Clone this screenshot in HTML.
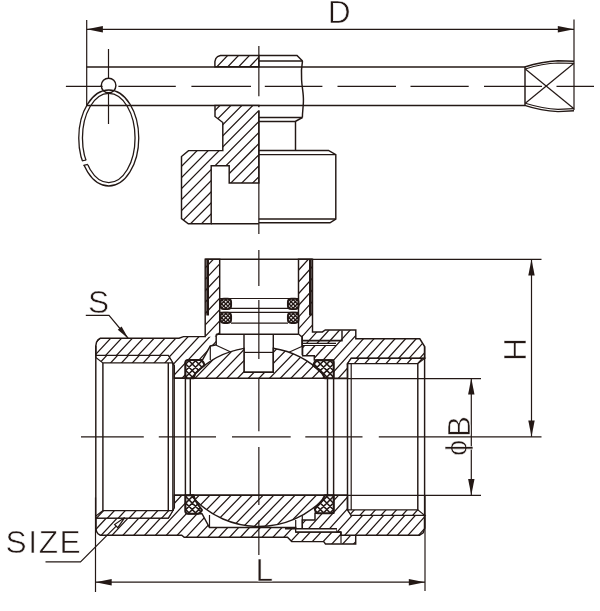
<!DOCTYPE html>
<html lang="en"><head><meta charset="utf-8"><title>Ball valve drawing</title>
<style>
html,body{margin:0;padding:0;background:#fff;}
svg{display:block;font-family:"Liberation Sans",sans-serif;}
svg{will-change:transform;}
</style></head>
<body>
<svg width="600" height="611" viewBox="0 0 600 611" stroke="#231815" fill="none" stroke-linecap="butt" stroke-linejoin="miter">
<rect x="0" y="0" width="600" height="611" fill="#fff" stroke="none"/>
<defs>
</defs>
<line x1="86.7" y1="29.3" x2="574" y2="29.3" stroke-width="1.2" />
<polygon points="86.70,29.30 102.90,26.10 102.90,32.50" fill="#231815" stroke="none"/>
<polygon points="574.00,29.30 557.80,32.50 557.80,26.10" fill="#231815" stroke="none"/>
<line x1="86.7" y1="20" x2="86.7" y2="105.5" stroke-width="1.2" />
<line x1="574" y1="19.5" x2="574" y2="110" stroke-width="1.2" />
<line x1="86.6" y1="67" x2="525" y2="67" stroke-width="1.45" />
<line x1="86.6" y1="105.5" x2="525" y2="105.5" stroke-width="1.45" />
<path d="M524.7,67 C532,64.6 546,61.2 558,60.7 L574,61.2" fill="none" stroke-width="1.45" />
<path d="M525.3,69 C533,66.5 546,63.4 558,63 L574,63.3" fill="none" stroke-width="1.2" />
<path d="M524.7,105.4 C532,107.8 546,111 558,111.6 L574,110.8" fill="none" stroke-width="1.45" />
<path d="M525.3,103.3 C533,105.7 546,108.9 558,109.3 L574,108.7" fill="none" stroke-width="1.2" />
<line x1="525" y1="67" x2="525" y2="105.4" stroke-width="1.45" />
<line x1="525.3" y1="69" x2="574" y2="108.7" stroke-width="1.2" />
<line x1="525.3" y1="103.3" x2="574" y2="63.3" stroke-width="1.2" />
<line x1="65.9" y1="86.3" x2="101.5" y2="86.3" stroke-width="1.2" />
<line x1="118.4" y1="86.3" x2="175.8" y2="86.3" stroke-width="1.2" />
<line x1="191.4" y1="86.3" x2="251" y2="86.3" stroke-width="1.2" />
<line x1="264.8" y1="86.3" x2="322.4" y2="86.3" stroke-width="1.2" />
<line x1="337.5" y1="86.3" x2="396" y2="86.3" stroke-width="1.2" />
<line x1="410.5" y1="86.3" x2="468.7" y2="86.3" stroke-width="1.2" />
<line x1="484" y1="86.3" x2="542" y2="86.3" stroke-width="1.2" />
<line x1="556.5" y1="86.3" x2="594" y2="86.3" stroke-width="1.2" />
<line x1="108.5" y1="49" x2="108.5" y2="124" stroke-width="1.2" />
<circle cx="108.6" cy="85.5" r="7.3" fill="#fff" stroke-width="1.45"/>
<line x1="100.5" y1="86.3" x2="102.6" y2="86.3" stroke-width="1.2" />
<g fill="none" stroke-width="1.3">
<ellipse cx="108.75" cy="138" rx="30" ry="48" />
<ellipse cx="108.75" cy="138" rx="26.3" ry="44.6" />
</g>
<polygon points="76,161.5 89,159.8 89,164.4 76,165.8" fill="#fff" stroke="none"/>
<line x1="81.9" y1="160.9" x2="86.2" y2="160.0" stroke-width="1.2" />
<line x1="83.6" y1="165.4" x2="87.9" y2="164.4" stroke-width="1.2" />
<clipPath id="c1"><path d="M214.9,66.8 L214.9,61.5 L215.8,58.6 L217.6,56.6 L220.4,55.5 L258.85,55.5 L258.85,66.8 Z"/></clipPath>
<path d="M214.9,66.8 L214.9,61.5 L215.8,58.6 L217.6,56.6 L220.4,55.5 L258.85,55.5 L258.85,66.8 Z" fill="#fff" stroke="none"/>
<path d="M204.07,68.80L218.59,53.50M214.97,68.80L229.49,53.50M225.87,68.80L240.39,53.50M236.77,68.80L251.29,53.50M247.67,68.80L262.19,53.50M258.57,68.80L273.09,53.50" clip-path="url(#c1)" stroke-width="1.25" fill="none"/>
<polygon points="214.9,66.8 214.9,61.5 215.8,58.6 217.6,56.6 220.4,55.5 258.85,55.5 258.85,66.8" fill="none" stroke-width="1.45" />
<polyline points="258.85,55.4 297,55.4 302.5,61" fill="none" stroke-width="1.45" />
<line x1="258.85" y1="61" x2="302.5" y2="61" stroke-width="1.45" />
<path d="M302.5,61 C301.2,68 301.2,74 301.6,80 C302,88 303.8,94 303.4,102 C303.2,108 302.4,112 302.4,117.5" fill="none" stroke-width="1.45" />
<clipPath id="c2"><path d="M215,105.4 L258.85,105.4 L258.85,183 L229.2,183 L229.2,165.8 L211.2,165.8 L211.2,223.8 L188.3,223.8 L181.5,218.6 L181.5,156.5 L188.5,150.6 L222.8,150.6 L222.8,122.5 L215,116.5 Z"/></clipPath>
<path d="M215,105.4 L258.85,105.4 L258.85,183 L229.2,183 L229.2,165.8 L211.2,165.8 L211.2,223.8 L188.3,223.8 L181.5,218.6 L181.5,156.5 L188.5,150.6 L222.8,150.6 L222.8,122.5 L215,116.5 Z" fill="#fff" stroke="none"/>
<path d="M68.03,225.80L189.16,103.40M78.98,225.80L200.11,103.40M89.93,225.80L211.06,103.40M100.88,225.80L222.01,103.40M111.83,225.80L232.96,103.40M122.78,225.80L243.91,103.40M133.73,225.80L254.86,103.40M144.68,225.80L265.81,103.40M155.63,225.80L276.76,103.40M166.58,225.80L287.71,103.40M177.53,225.80L298.66,103.40M188.48,225.80L309.61,103.40M199.43,225.80L320.56,103.40M210.38,225.80L331.51,103.40M221.33,225.80L342.46,103.40M232.28,225.80L353.41,103.40M243.23,225.80L364.36,103.40M254.18,225.80L375.31,103.40" clip-path="url(#c2)" stroke-width="1.25" fill="none"/>
<polygon points="215,105.4 258.85,105.4 258.85,183 229.2,183 229.2,165.8 211.2,165.8 211.2,223.8 188.3,223.8 181.5,218.6 181.5,156.5 188.5,150.6 222.8,150.6 222.8,122.5 215,116.5" fill="none" stroke-width="1.45" />
<line x1="211.2" y1="223.7" x2="258.85" y2="223.7" stroke-width="1.45" />
<rect x="257.8" y="107.2" width="2.4" height="3.2" fill="#fff" stroke="none"/>
<line x1="258.85" y1="117.5" x2="302.4" y2="117.5" stroke-width="1.45" />
<polyline points="258.85,121.5 295.3,121.5 302.4,117.5" fill="none" stroke-width="1.45" />
<line x1="295.5" y1="121.5" x2="295.5" y2="150.6" stroke-width="1.45" />
<polyline points="258.85,150.4 328.5,150.4 335.8,154.6 335.8,219 330,222.8 258.85,222.8" fill="none" stroke-width="1.45" />
<line x1="258.85" y1="154.6" x2="335.8" y2="154.6" stroke-width="1.45" />
<line x1="258.85" y1="219" x2="335.8" y2="219" stroke-width="1.45" />
<clipPath id="c3"><path d="M95.8,345.8 L96.5,342.2 L98,339.8 L100.3,338.3 L179,338.3 L183.5,336.6 L216.2,336.6 L216.2,344.8 L210.3,346 L202.8,359.4 L201,360 L188,360 L185.4,362.5 L185.4,378.3 L174.3,378.3 L174.3,365.8 L168.3,355.5 L95.8,355.5 Z"/></clipPath>
<path d="M95.8,345.8 L96.5,342.2 L98,339.8 L100.3,338.3 L179,338.3 L183.5,336.6 L216.2,336.6 L216.2,344.8 L210.3,346 L202.8,359.4 L201,360 L188,360 L185.4,362.5 L185.4,378.3 L174.3,378.3 L174.3,365.8 L168.3,355.5 L95.8,355.5 Z" fill="#fff" stroke="none"/>
<path d="M60.77,380.30L103.24,334.60M71.62,380.30L114.09,334.60M82.47,380.30L124.94,334.60M93.32,380.30L135.79,334.60M104.17,380.30L146.64,334.60M115.02,380.30L157.49,334.60M125.87,380.30L168.34,334.60M136.72,380.30L179.19,334.60M147.57,380.30L190.04,334.60M158.42,380.30L200.89,334.60M169.27,380.30L211.74,334.60M180.12,380.30L222.59,334.60M190.97,380.30L233.44,334.60M201.82,380.30L244.29,334.60M212.67,380.30L255.14,334.60" clip-path="url(#c3)" stroke-width="1.25" fill="none"/>
<clipPath id="c4"><path d="M205.2,259.2 L219.7,259.2 L219.7,333.7 L216.2,335 L216.2,336.6 L205.2,336.6 Z"/></clipPath>
<path d="M205.2,259.2 L219.7,259.2 L219.7,333.7 L216.2,335 L216.2,336.6 L205.2,336.6 Z" fill="#fff" stroke="none"/>
<path d="M127.62,338.60L204.59,257.20M138.40,338.60L215.37,257.20M149.18,338.60L226.15,257.20M159.96,338.60L236.93,257.20M170.74,338.60L247.71,257.20M181.52,338.60L258.49,257.20M192.30,338.60L269.27,257.20M203.08,338.60L280.05,257.20M213.86,338.60L290.83,257.20" clip-path="url(#c4)" stroke-width="1.25" fill="none"/>
<polygon points="95.8,345.8 96.5,342.2 98,339.8 100.3,338.3 179,338.3 183.5,336.6 205.2,336.6 205.2,259.2 219.7,259.2 219.7,333.7 216.2,335 216.2,344.8 210.3,346 202.8,359.4 201,360 188,360 185.4,362.5 185.4,378.3 174.3,378.3 174.3,365.8 168.3,355.5 95.8,355.5" fill="none" stroke-width="1.45" />
<clipPath id="c5"><path d="M95.8,355.5 L168.3,355.5 L172.9,362.9 L102.9,362.9 L95.8,357.5 Z"/></clipPath>
<path d="M95.8,355.5 L168.3,355.5 L172.9,362.9 L102.9,362.9 L95.8,357.5 Z" fill="#fff" stroke="none"/>
<path d="M87.07,364.90L97.67,353.50M97.92,364.90L108.52,353.50M108.77,364.90L119.37,353.50M119.62,364.90L130.22,353.50M130.47,364.90L141.07,353.50M141.32,364.90L151.92,353.50M152.17,364.90L162.77,353.50M163.02,364.90L173.62,353.50M173.87,364.90L184.47,353.50" clip-path="url(#c5)" stroke-width="1.25" fill="none"/>
<polygon points="95.8,355.5 168.3,355.5 172.9,362.9 102.9,362.9 95.8,357.5" fill="none" stroke-width="1.2" />
<clipPath id="c6"><path d="M95.8,527.8 L96.5,531.4000000000001 L98,533.8 L100.3,535.2 L181.7,535.2 L184.2,537.2 L287.5,537.2 L291.7,541.6 L323.7,541.6 L325.5,544 L355.7,544 L355.7,535.3 L341,535.3 L341,532 L295.7,532 L295.7,527.5 L209.5,527.5 L202,513.7 L188,513.7 L185.4,511.5 L185.4,495.3 L174.3,495.3 L174.3,507.8 L168.3,518.1 L95.8,518.1 Z"/></clipPath>
<path d="M95.8,527.8 L96.5,531.4000000000001 L98,533.8 L100.3,535.2 L181.7,535.2 L184.2,537.2 L287.5,537.2 L291.7,541.6 L323.7,541.6 L325.5,544 L355.7,544 L355.7,535.3 L341,535.3 L341,532 L295.7,532 L295.7,527.5 L209.5,527.5 L202,513.7 L188,513.7 L185.4,511.5 L185.4,495.3 L174.3,495.3 L174.3,507.8 L168.3,518.1 L95.8,518.1 Z" fill="#fff" stroke="none"/>
<path d="M47.84,546.00L96.82,493.30M58.69,546.00L107.67,493.30M69.54,546.00L118.52,493.30M80.39,546.00L129.37,493.30M91.24,546.00L140.22,493.30M102.09,546.00L151.07,493.30M112.94,546.00L161.92,493.30M123.79,546.00L172.77,493.30M134.64,546.00L183.62,493.30M145.49,546.00L194.47,493.30M156.34,546.00L205.32,493.30M167.19,546.00L216.17,493.30M178.04,546.00L227.02,493.30M188.89,546.00L237.87,493.30M199.74,546.00L248.72,493.30M210.59,546.00L259.57,493.30M221.44,546.00L270.42,493.30M232.29,546.00L281.27,493.30M243.14,546.00L292.12,493.30M253.99,546.00L302.97,493.30M264.84,546.00L313.82,493.30M275.69,546.00L324.67,493.30M286.54,546.00L335.52,493.30M297.39,546.00L346.37,493.30M308.24,546.00L357.22,493.30M319.09,546.00L368.07,493.30M329.94,546.00L378.92,493.30M340.79,546.00L389.77,493.30M351.64,546.00L400.62,493.30" clip-path="url(#c6)" stroke-width="1.25" fill="none"/>
<polygon points="95.8,527.8 96.5,531.4000000000001 98,533.8 100.3,535.2 181.7,535.2 184.2,537.2 287.5,537.2 291.7,541.6 323.7,541.6 325.5,544 355.7,544 355.7,535.3 341,535.3 341,532 295.7,532 295.7,527.5 209.5,527.5 202,513.7 188,513.7 185.4,511.5 185.4,495.3 174.3,495.3 174.3,507.8 168.3,518.1 95.8,518.1" fill="none" stroke-width="1.45" />
<clipPath id="c7"><path d="M95.8,518.1 L168.3,518.1 L172.9,510.7 L102.9,510.7 L95.8,516.1 Z"/></clipPath>
<path d="M95.8,518.1 L168.3,518.1 L172.9,510.7 L102.9,510.7 L95.8,516.1 Z" fill="#fff" stroke="none"/>
<path d="M83.90,520.10L94.50,508.70M94.75,520.10L105.35,508.70M105.60,520.10L116.20,508.70M116.45,520.10L127.05,508.70M127.30,520.10L137.90,508.70M138.15,520.10L148.75,508.70M149.00,520.10L159.60,508.70M159.85,520.10L170.45,508.70M170.70,520.10L181.30,508.70" clip-path="url(#c7)" stroke-width="1.25" fill="none"/>
<polygon points="95.8,518.1 168.3,518.1 172.9,510.7 102.9,510.7 95.8,516.1" fill="none" stroke-width="1.2" />
<line x1="95.8" y1="345.8" x2="95.8" y2="527.8" stroke-width="1.45" />
<line x1="102.9" y1="362.9" x2="102.9" y2="510.7" stroke-width="1.45" />
<line x1="168.3" y1="362.9" x2="168.3" y2="510.7" stroke-width="1.45" />
<line x1="172.9" y1="362.9" x2="172.9" y2="510.7" stroke-width="1.45" />
<line x1="174.3" y1="365.8" x2="174.3" y2="507.8" stroke-width="1.2" />
<line x1="174.3" y1="378.3" x2="347.5" y2="378.3" stroke-width="1.45" />
<line x1="174.3" y1="495.3" x2="347.5" y2="495.3" stroke-width="1.45" />
<line x1="185.4" y1="378.3" x2="185.4" y2="495.3" stroke-width="1.45" />
<line x1="190.3" y1="378.3" x2="190.3" y2="495.3" stroke-width="1.45" />
<line x1="327.5" y1="378.3" x2="327.5" y2="495.3" stroke-width="1.45" />
<line x1="333.6" y1="378.3" x2="333.6" y2="495.3" stroke-width="1.45" />
<clipPath id="c8"><path d="M298.5,259.2 L312.5,259.2 L312.5,331.9 L322.4,331.9 L325.3,329.9 L355.8,329.9 L355.8,338.8 L419.8,338.8 L424.6,346.5 L424.6,358.3 L351.2,358.3 L347.5,363.7 L347.5,378.3 L333.5,378.3 L333.5,360 L314.3,360 L314.3,355.8 L302.6,355.8 L302.6,347 L302,344.8 L302,337 L298.5,334 Z"/></clipPath>
<path d="M298.5,259.2 L312.5,259.2 L312.5,331.9 L322.4,331.9 L325.3,329.9 L355.8,329.9 L355.8,338.8 L419.8,338.8 L424.6,346.5 L424.6,358.3 L351.2,358.3 L347.5,363.7 L347.5,378.3 L333.5,378.3 L333.5,360 L314.3,360 L314.3,355.8 L302.6,355.8 L302.6,347 L302,344.8 L302,337 L298.5,334 Z" fill="#fff" stroke="none"/>
<path d="M188.86,380.30L299.70,257.20M199.41,380.30L310.25,257.20M209.96,380.30L320.80,257.20M220.51,380.30L331.35,257.20M231.06,380.30L341.90,257.20M241.61,380.30L352.45,257.20M252.16,380.30L363.00,257.20M262.71,380.30L373.55,257.20M273.26,380.30L384.10,257.20M283.81,380.30L394.65,257.20M294.36,380.30L405.20,257.20M304.91,380.30L415.75,257.20M315.46,380.30L426.30,257.20M326.01,380.30L436.85,257.20M336.56,380.30L447.40,257.20M347.11,380.30L457.95,257.20M357.66,380.30L468.50,257.20M368.21,380.30L479.05,257.20M378.76,380.30L489.60,257.20M389.31,380.30L500.15,257.20M399.86,380.30L510.70,257.20M410.41,380.30L521.25,257.20M420.96,380.30L531.80,257.20" clip-path="url(#c8)" stroke-width="1.25" fill="none"/>
<polygon points="298.5,259.2 312.5,259.2 312.5,331.9 322.4,331.9 325.3,329.9 355.8,329.9 355.8,338.8 419.8,338.8 424.6,346.5 424.6,358.3 351.2,358.3 347.5,363.7 347.5,378.3 333.5,378.3 333.5,360 314.3,360 314.3,355.8 302.6,355.8 302.6,347 302,344.8 302,337 298.5,334" fill="none" stroke-width="1.45" />
<line x1="302" y1="340.6" x2="342.6" y2="340.6" stroke-width="1.65" />
<clipPath id="c9"><path d="M351.2,358.3 L424.6,358.3 L417.8,363.7 L347.5,363.7 Z"/></clipPath>
<path d="M351.2,358.3 L424.6,358.3 L417.8,363.7 L347.5,363.7 Z" fill="#fff" stroke="none"/>
<path d="M341.89,365.70L350.36,356.30M352.44,365.70L360.91,356.30M362.99,365.70L371.46,356.30M373.54,365.70L382.01,356.30M384.09,365.70L392.56,356.30M394.64,365.70L403.11,356.30M405.19,365.70L413.66,356.30M415.74,365.70L424.21,356.30M426.29,365.70L434.76,356.30" clip-path="url(#c9)" stroke-width="1.25" fill="none"/>
<polygon points="351.2,358.3 424.6,358.3 417.8,363.7 347.5,363.7" fill="none" stroke-width="1.2" />
<rect x="302" y="343.4" width="34" height="2" fill="#fff" stroke="none"/>
<line x1="302" y1="343.4" x2="336" y2="343.4" stroke-width="1.2" />
<line x1="302" y1="345.5" x2="336" y2="345.5" stroke-width="1.2" />
<line x1="342" y1="330.5" x2="342" y2="340.6" stroke-width="1.45" />
<clipPath id="c10"><path d="M347.5,495.3 L333.7,495.3 L333.7,513.3 L315,513.3 L315,520 L302.3,520 L302.3,528.7 L336.3,528.7 L336.3,532 L341,532 L341,535.3 L355.7,535.3 L419.5,535.3 L423.2,532.8 L424.6,528.5 L424.6,515.3 L351.2,515.3 L347.5,509.9 Z"/></clipPath>
<path d="M347.5,495.3 L333.7,495.3 L333.7,513.3 L315,513.3 L315,520 L302.3,520 L302.3,528.7 L336.3,528.7 L336.3,532 L341,532 L341,535.3 L355.7,535.3 L419.5,535.3 L423.2,532.8 L424.6,528.5 L424.6,515.3 L351.2,515.3 L347.5,509.9 Z" fill="#fff" stroke="none"/>
<path d="M269.05,537.30L308.67,493.30M279.60,537.30L319.22,493.30M290.15,537.30L329.77,493.30M300.70,537.30L340.32,493.30M311.25,537.30L350.87,493.30M321.80,537.30L361.42,493.30M332.35,537.30L371.97,493.30M342.90,537.30L382.52,493.30M353.45,537.30L393.07,493.30M364.00,537.30L403.62,493.30M374.55,537.30L414.17,493.30M385.10,537.30L424.72,493.30M395.65,537.30L435.27,493.30M406.20,537.30L445.82,493.30M416.75,537.30L456.37,493.30" clip-path="url(#c10)" stroke-width="1.25" fill="none"/>
<polygon points="347.5,495.3 333.7,495.3 333.7,513.3 315,513.3 315,520 302.3,520 302.3,528.7 336.3,528.7 336.3,532 341,532 341,535.3 355.7,535.3 419.5,535.3 423.2,532.8 424.6,528.5 424.6,515.3 351.2,515.3 347.5,509.9" fill="none" stroke-width="1.45" />
<clipPath id="c11"><path d="M351.2,515.3 L424.6,515.3 L417.8,509.9 L347.5,509.9 Z"/></clipPath>
<path d="M351.2,515.3 L424.6,515.3 L417.8,509.9 L347.5,509.9 Z" fill="#fff" stroke="none"/>
<path d="M337.08,517.30L345.54,507.90M347.63,517.30L356.09,507.90M358.18,517.30L366.64,507.90M368.73,517.30L377.19,507.90M379.28,517.30L387.74,507.90M389.83,517.30L398.29,507.90M400.38,517.30L408.84,507.90M410.93,517.30L419.39,507.90M421.48,517.30L429.94,507.90" clip-path="url(#c11)" stroke-width="1.25" fill="none"/>
<polygon points="351.2,515.3 424.6,515.3 417.8,509.9 347.5,509.9" fill="none" stroke-width="1.2" />
<rect x="296" y="528.7" width="40.3" height="3.3" fill="#fff" stroke="none"/>
<line x1="285" y1="528.7" x2="336.3" y2="528.7" stroke-width="1.45" />
<line x1="295.7" y1="532" x2="341" y2="532" stroke-width="1.45" />
<line x1="341" y1="532" x2="341" y2="543.5" stroke-width="1.2" />
<line x1="347.5" y1="363.7" x2="347.5" y2="509.9" stroke-width="1.45" />
<line x1="351.2" y1="363.7" x2="351.2" y2="509.9" stroke-width="1.2" />
<line x1="417.8" y1="363.7" x2="417.8" y2="509.9" stroke-width="1.45" />
<line x1="424.6" y1="346.5" x2="424.6" y2="528.5" stroke-width="1.45" />
<line x1="205.2" y1="259.2" x2="312.3" y2="259.2" stroke-width="1.45" />
<rect x="206.3" y="260" width="2.7" height="55.5" fill="#231815" stroke="none"/>
<rect x="309" y="260" width="2.7" height="55.5" fill="#231815" stroke="none"/>
<line x1="219.7" y1="298.5" x2="298.5" y2="298.5" stroke-width="1.2" />
<line x1="231" y1="308.3" x2="288" y2="308.3" stroke-width="1.2" />
<line x1="219.7" y1="312.4" x2="298.5" y2="312.4" stroke-width="1.2" />
<line x1="231" y1="323.1" x2="288" y2="323.1" stroke-width="1.2" />
<line x1="216.2" y1="334.3" x2="298.5" y2="334.3" stroke-width="1.55" />
<line x1="244" y1="334.3" x2="244" y2="372.3" stroke-width="1.45" />
<line x1="273.3" y1="334.3" x2="273.3" y2="372.3" stroke-width="1.45" />
<line x1="244" y1="352.4" x2="273.3" y2="352.4" stroke-width="1.2" />
<line x1="244" y1="372.3" x2="273.3" y2="372.3" stroke-width="1.45" />
<clipPath id="c12"><path d="M223.9,298.7 H227.7 Q231.1,298.7 231.1,302.09999999999997 V305.7 Q231.1,309.09999999999997 227.7,309.09999999999997 H223.9 Q220.5,309.09999999999997 220.5,305.7 V302.09999999999997 Q220.5,298.7 223.9,298.7 Z"/></clipPath>
<path d="M223.9,298.7 H227.7 Q231.1,298.7 231.1,302.09999999999997 V305.7 Q231.1,309.09999999999997 227.7,309.09999999999997 H223.9 Q220.5,309.09999999999997 220.5,305.7 V302.09999999999997 Q220.5,298.7 223.9,298.7 Z" fill="#fff" stroke="none"/>
<path d="M206.00,311.10L220.40,296.70M210.20,311.10L224.60,296.70M214.40,311.10L228.80,296.70M218.60,311.10L233.00,296.70M222.80,311.10L237.20,296.70M227.00,311.10L241.40,296.70M231.20,311.10L245.60,296.70M220.40,311.10L206.00,296.70M224.60,311.10L210.20,296.70M228.80,311.10L214.40,296.70M233.00,311.10L218.60,296.70M237.20,311.10L222.80,296.70M241.40,311.10L227.00,296.70M245.60,311.10L231.20,296.70" clip-path="url(#c12)" stroke-width="1.4" fill="none"/>
<path d="M223.9,298.7 H227.7 Q231.1,298.7 231.1,302.09999999999997 V305.7 Q231.1,309.09999999999997 227.7,309.09999999999997 H223.9 Q220.5,309.09999999999997 220.5,305.7 V302.09999999999997 Q220.5,298.7 223.9,298.7 Z" fill="none" stroke-width="1.9" stroke-linejoin="round"/>
<clipPath id="c13"><path d="M223.9,312.6 H227.7 Q231.1,312.6 231.1,316.0 V319.6 Q231.1,323.0 227.7,323.0 H223.9 Q220.5,323.0 220.5,319.6 V316.0 Q220.5,312.6 223.9,312.6 Z"/></clipPath>
<path d="M223.9,312.6 H227.7 Q231.1,312.6 231.1,316.0 V319.6 Q231.1,323.0 227.7,323.0 H223.9 Q220.5,323.0 220.5,319.6 V316.0 Q220.5,312.6 223.9,312.6 Z" fill="#fff" stroke="none"/>
<path d="M206.00,325.00L220.40,310.60M210.20,325.00L224.60,310.60M214.40,325.00L228.80,310.60M218.60,325.00L233.00,310.60M222.80,325.00L237.20,310.60M227.00,325.00L241.40,310.60M231.20,325.00L245.60,310.60M220.40,325.00L206.00,310.60M224.60,325.00L210.20,310.60M228.80,325.00L214.40,310.60M233.00,325.00L218.60,310.60M237.20,325.00L222.80,310.60M241.40,325.00L227.00,310.60M245.60,325.00L231.20,310.60" clip-path="url(#c13)" stroke-width="1.4" fill="none"/>
<path d="M223.9,312.6 H227.7 Q231.1,312.6 231.1,316.0 V319.6 Q231.1,323.0 227.7,323.0 H223.9 Q220.5,323.0 220.5,319.6 V316.0 Q220.5,312.6 223.9,312.6 Z" fill="none" stroke-width="1.9" stroke-linejoin="round"/>
<clipPath id="c14"><path d="M291.29999999999995,298.7 H295.1 Q298.5,298.7 298.5,302.09999999999997 V305.7 Q298.5,309.09999999999997 295.1,309.09999999999997 H291.29999999999995 Q287.9,309.09999999999997 287.9,305.7 V302.09999999999997 Q287.9,298.7 291.29999999999995,298.7 Z"/></clipPath>
<path d="M291.29999999999995,298.7 H295.1 Q298.5,298.7 298.5,302.09999999999997 V305.7 Q298.5,309.09999999999997 295.1,309.09999999999997 H291.29999999999995 Q287.9,309.09999999999997 287.9,305.7 V302.09999999999997 Q287.9,298.7 291.29999999999995,298.7 Z" fill="#fff" stroke="none"/>
<path d="M273.40,311.10L287.80,296.70M277.60,311.10L292.00,296.70M281.80,311.10L296.20,296.70M286.00,311.10L300.40,296.70M290.20,311.10L304.60,296.70M294.40,311.10L308.80,296.70M298.60,311.10L313.00,296.70M287.80,311.10L273.40,296.70M292.00,311.10L277.60,296.70M296.20,311.10L281.80,296.70M300.40,311.10L286.00,296.70M304.60,311.10L290.20,296.70M308.80,311.10L294.40,296.70M313.00,311.10L298.60,296.70" clip-path="url(#c14)" stroke-width="1.4" fill="none"/>
<path d="M291.29999999999995,298.7 H295.1 Q298.5,298.7 298.5,302.09999999999997 V305.7 Q298.5,309.09999999999997 295.1,309.09999999999997 H291.29999999999995 Q287.9,309.09999999999997 287.9,305.7 V302.09999999999997 Q287.9,298.7 291.29999999999995,298.7 Z" fill="none" stroke-width="1.9" stroke-linejoin="round"/>
<clipPath id="c15"><path d="M291.29999999999995,312.6 H295.1 Q298.5,312.6 298.5,316.0 V319.6 Q298.5,323.0 295.1,323.0 H291.29999999999995 Q287.9,323.0 287.9,319.6 V316.0 Q287.9,312.6 291.29999999999995,312.6 Z"/></clipPath>
<path d="M291.29999999999995,312.6 H295.1 Q298.5,312.6 298.5,316.0 V319.6 Q298.5,323.0 295.1,323.0 H291.29999999999995 Q287.9,323.0 287.9,319.6 V316.0 Q287.9,312.6 291.29999999999995,312.6 Z" fill="#fff" stroke="none"/>
<path d="M273.40,325.00L287.80,310.60M277.60,325.00L292.00,310.60M281.80,325.00L296.20,310.60M286.00,325.00L300.40,310.60M290.20,325.00L304.60,310.60M294.40,325.00L308.80,310.60M298.60,325.00L313.00,310.60M287.80,325.00L273.40,310.60M292.00,325.00L277.60,310.60M296.20,325.00L281.80,310.60M300.40,325.00L286.00,310.60M304.60,325.00L290.20,310.60M308.80,325.00L294.40,310.60M313.00,325.00L298.60,310.60" clip-path="url(#c15)" stroke-width="1.4" fill="none"/>
<path d="M291.29999999999995,312.6 H295.1 Q298.5,312.6 298.5,316.0 V319.6 Q298.5,323.0 295.1,323.0 H291.29999999999995 Q287.9,323.0 287.9,319.6 V316.0 Q287.9,312.6 291.29999999999995,312.6 Z" fill="none" stroke-width="1.9" stroke-linejoin="round"/>
<clipPath id="c16"><path d="M195.2,373.60 A89.7,89.7 0 0 1 244,348.34 L244,372.3 L273.3,372.3 L273.3,348.27 A89.7,89.7 0 0 1 322.3,373.40 L327.5,378.3 L190.3,378.3 Z"/></clipPath>
<path d="M195.2,373.60 A89.7,89.7 0 0 1 244,348.34 L244,372.3 L273.3,372.3 L273.3,348.27 A89.7,89.7 0 0 1 322.3,373.40 L327.5,378.3 L190.3,378.3 Z" fill="#fff" stroke="none"/>
<path d="M148.83,382.00L186.49,343.00M159.48,382.00L197.14,343.00M170.13,382.00L207.79,343.00M180.78,382.00L218.44,343.00M191.43,382.00L229.09,343.00M202.08,382.00L239.74,343.00M212.73,382.00L250.39,343.00M223.38,382.00L261.04,343.00M234.03,382.00L271.69,343.00M244.68,382.00L282.34,343.00M255.33,382.00L292.99,343.00M265.98,382.00L303.64,343.00M276.63,382.00L314.29,343.00M287.28,382.00L324.94,343.00M297.93,382.00L335.59,343.00M308.58,382.00L346.24,343.00M319.23,382.00L356.89,343.00M329.88,382.00L367.54,343.00" clip-path="url(#c16)" stroke-width="1.25" fill="none"/>
<path d="M195.2,373.60 A89.7,89.7 0 0 1 244,348.34 L244,372.3 L273.3,372.3 L273.3,348.27 A89.7,89.7 0 0 1 322.3,373.40 L327.5,378.3 L190.3,378.3 Z" fill="none" stroke-width="1.45" />
<clipPath id="c17"><path d="M195.2,500.00 A89.7,89.7 0 0 0 322.3,500.20 L327.5,495.3 L190.3,495.3 Z"/></clipPath>
<path d="M195.2,500.00 A89.7,89.7 0 0 0 322.3,500.20 L327.5,495.3 L190.3,495.3 Z" fill="#fff" stroke="none"/>
<path d="M153.08,532.00L191.70,492.00M163.73,532.00L202.35,492.00M174.38,532.00L213.00,492.00M185.03,532.00L223.65,492.00M195.68,532.00L234.30,492.00M206.33,532.00L244.95,492.00M216.98,532.00L255.60,492.00M227.63,532.00L266.25,492.00M238.28,532.00L276.90,492.00M248.93,532.00L287.55,492.00M259.58,532.00L298.20,492.00M270.23,532.00L308.85,492.00M280.88,532.00L319.50,492.00M291.53,532.00L330.15,492.00M302.18,532.00L340.80,492.00M312.83,532.00L351.45,492.00M323.48,532.00L362.10,492.00M334.13,532.00L372.75,492.00" clip-path="url(#c17)" stroke-width="1.25" fill="none"/>
<path d="M195.2,500.00 A89.7,89.7 0 0 0 322.3,500.20 L327.5,495.3 L190.3,495.3 Z" fill="none" stroke-width="1.45" />
<clipPath id="c18"><path d="M185.4,378.3 L185.4,362.5 Q185.4,360 188,360 L200.5,360 Q203.5,361 204.5,365.2 A89.7,89.7 0 0 0 195.2,373.60 L193.5,378.3 Z"/></clipPath>
<path d="M185.4,378.3 L185.4,362.5 Q185.4,360 188,360 L200.5,360 Q203.5,361 204.5,365.2 A89.7,89.7 0 0 0 195.2,373.60 L193.5,378.3 Z" fill="#fff" stroke="none"/>
<path d="M161.25,382.00L186.25,357.00M167.75,382.00L192.75,357.00M174.25,382.00L199.25,357.00M180.75,382.00L205.75,357.00M187.25,382.00L212.25,357.00M193.75,382.00L218.75,357.00M200.25,382.00L225.25,357.00M206.75,382.00L231.75,357.00M184.25,382.00L159.25,357.00M190.75,382.00L165.75,357.00M197.25,382.00L172.25,357.00M203.75,382.00L178.75,357.00M210.25,382.00L185.25,357.00M216.75,382.00L191.75,357.00M223.25,382.00L198.25,357.00M229.75,382.00L204.75,357.00" clip-path="url(#c18)" stroke-width="1.55" fill="none"/>
<path d="M185.4,378.3 L185.4,362.5 Q185.4,360 188,360 L200.5,360 Q203.5,361 204.5,365.2 A89.7,89.7 0 0 0 195.2,373.60 L193.5,378.3 Z" fill="none" stroke-width="2.0" stroke-linejoin="round"/>
<clipPath id="c19"><path d="M333.7,378.3 L333.7,362.5 Q333.7,360.2 331,360.2 L317,360.2 Q314.3,361 313.2,365.4 A89.7,89.7 0 0 1 322.3,373.40 L325,378.3 Z"/></clipPath>
<path d="M333.7,378.3 L333.7,362.5 Q333.7,360.2 331,360.2 L317,360.2 Q314.3,361 313.2,365.4 A89.7,89.7 0 0 1 322.3,373.40 L325,378.3 Z" fill="#fff" stroke="none"/>
<path d="M289.35,382.00L314.35,357.00M295.85,382.00L320.85,357.00M302.35,382.00L327.35,357.00M308.85,382.00L333.85,357.00M315.35,382.00L340.35,357.00M321.85,382.00L346.85,357.00M328.35,382.00L353.35,357.00M334.85,382.00L359.85,357.00M312.35,382.00L287.35,357.00M318.85,382.00L293.85,357.00M325.35,382.00L300.35,357.00M331.85,382.00L306.85,357.00M338.35,382.00L313.35,357.00M344.85,382.00L319.85,357.00M351.35,382.00L326.35,357.00M357.85,382.00L332.85,357.00" clip-path="url(#c19)" stroke-width="1.55" fill="none"/>
<path d="M333.7,378.3 L333.7,362.5 Q333.7,360.2 331,360.2 L317,360.2 Q314.3,361 313.2,365.4 A89.7,89.7 0 0 1 322.3,373.40 L325,378.3 Z" fill="none" stroke-width="2.0" stroke-linejoin="round"/>
<clipPath id="c20"><path d="M185.4,495.3 L185.4,511.3 Q185.4,513.7 188,513.7 L198,513.7 Q201,513 202,510 A89.7,89.7 0 0 1 195.2,500.00 L193.5,495.3 Z"/></clipPath>
<path d="M185.4,495.3 L185.4,511.3 Q185.4,513.7 188,513.7 L198,513.7 Q201,513 202,510 A89.7,89.7 0 0 1 195.2,500.00 L193.5,495.3 Z" fill="#fff" stroke="none"/>
<path d="M158.85,517.00L183.85,492.00M165.35,517.00L190.35,492.00M171.85,517.00L196.85,492.00M178.35,517.00L203.35,492.00M184.85,517.00L209.85,492.00M191.35,517.00L216.35,492.00M197.85,517.00L222.85,492.00M204.35,517.00L229.35,492.00M186.65,517.00L161.65,492.00M193.15,517.00L168.15,492.00M199.65,517.00L174.65,492.00M206.15,517.00L181.15,492.00M212.65,517.00L187.65,492.00M219.15,517.00L194.15,492.00M225.65,517.00L200.65,492.00M232.15,517.00L207.15,492.00" clip-path="url(#c20)" stroke-width="1.55" fill="none"/>
<path d="M185.4,495.3 L185.4,511.3 Q185.4,513.7 188,513.7 L198,513.7 Q201,513 202,510 A89.7,89.7 0 0 1 195.2,500.00 L193.5,495.3 Z" fill="none" stroke-width="2.0" stroke-linejoin="round"/>
<clipPath id="c21"><path d="M333.7,495.3 L333.7,511 Q333.7,513.3 331,513.3 L318,513.3 Q315.5,513 314.8,509 A89.7,89.7 0 0 0 322.3,500.20 L325,495.3 Z"/></clipPath>
<path d="M333.7,495.3 L333.7,511 Q333.7,513.3 331,513.3 L318,513.3 Q315.5,513 314.8,509 A89.7,89.7 0 0 0 322.3,500.20 L325,495.3 Z" fill="#fff" stroke="none"/>
<path d="M286.95,517.00L311.95,492.00M293.45,517.00L318.45,492.00M299.95,517.00L324.95,492.00M306.45,517.00L331.45,492.00M312.95,517.00L337.95,492.00M319.45,517.00L344.45,492.00M325.95,517.00L350.95,492.00M332.45,517.00L357.45,492.00M314.75,517.00L289.75,492.00M321.25,517.00L296.25,492.00M327.75,517.00L302.75,492.00M334.25,517.00L309.25,492.00M340.75,517.00L315.75,492.00M347.25,517.00L322.25,492.00M353.75,517.00L328.75,492.00M360.25,517.00L335.25,492.00" clip-path="url(#c21)" stroke-width="1.55" fill="none"/>
<path d="M333.7,495.3 L333.7,511 Q333.7,513.3 331,513.3 L318,513.3 Q315.5,513 314.8,509 A89.7,89.7 0 0 0 322.3,500.20 L325,495.3 Z" fill="none" stroke-width="2.0" stroke-linejoin="round"/>
<line x1="210.3" y1="346" x2="210.3" y2="360" stroke-width="1.2" />
<polyline points="216.2,345.2 230.2,351.8" fill="none" stroke-width="1.2" />
<line x1="302.3" y1="335.5" x2="302.3" y2="355" stroke-width="1.45" />
<polyline points="289,352.3 302.3,346.3" fill="none" stroke-width="1.2" />
<line x1="209.5" y1="515" x2="209.5" y2="527.5" stroke-width="1.2" />
<line x1="295.7" y1="520" x2="295.7" y2="532" stroke-width="1.2" />
<line x1="302.3" y1="515.3" x2="302.3" y2="528.7" stroke-width="1.2" />
<line x1="81" y1="436.8" x2="143.8" y2="436.8" stroke-width="1.2" />
<line x1="158.8" y1="436.8" x2="216" y2="436.8" stroke-width="1.2" />
<line x1="232" y1="436.8" x2="290.7" y2="436.8" stroke-width="1.2" />
<line x1="305.3" y1="436.8" x2="362.5" y2="436.8" stroke-width="1.2" />
<line x1="378.8" y1="436.8" x2="541.5" y2="436.8" stroke-width="1.2" />
<line x1="258.85" y1="46" x2="258.85" y2="96.3" stroke-width="1.2" />
<line x1="258.85" y1="110.5" x2="258.85" y2="234" stroke-width="1.2" />
<line x1="258.85" y1="250" x2="258.85" y2="286" stroke-width="1.2" />
<line x1="258.85" y1="300" x2="258.85" y2="359" stroke-width="1.2" />
<line x1="258.85" y1="379" x2="258.85" y2="431.2" stroke-width="1.2" />
<line x1="258.85" y1="447" x2="258.85" y2="505" stroke-width="1.2" />
<line x1="258.85" y1="520.5" x2="258.85" y2="555" stroke-width="1.2" />
<line x1="312.3" y1="259.4" x2="541.5" y2="259.4" stroke-width="1.2" />
<line x1="531.5" y1="259.4" x2="531.5" y2="436.8" stroke-width="1.2" />
<polygon points="531.50,259.20 534.70,275.40 528.30,275.40" fill="#231815" stroke="none"/>
<polygon points="531.50,436.80 528.30,420.60 534.70,420.60" fill="#231815" stroke="none"/>
<line x1="333.7" y1="378.6" x2="481" y2="378.6" stroke-width="1.2" />
<line x1="347.5" y1="495.3" x2="481" y2="495.3" stroke-width="1.2" />
<line x1="471.3" y1="378.3" x2="471.3" y2="495.3" stroke-width="1.2" />
<polygon points="471.30,378.30 474.50,394.50 468.10,394.50" fill="#231815" stroke="none"/>
<polygon points="471.30,495.30 468.10,479.10 474.50,479.10" fill="#231815" stroke="none"/>
<line x1="95.5" y1="497.5" x2="95.5" y2="592" stroke-width="1.2" />
<line x1="425" y1="495.3" x2="425" y2="591" stroke-width="1.2" />
<line x1="95.5" y1="582.2" x2="425" y2="582.2" stroke-width="1.2" />
<polygon points="95.50,582.20 111.70,579.00 111.70,585.40" fill="#231815" stroke="none"/>
<polygon points="425.00,582.20 408.80,585.40 408.80,579.00" fill="#231815" stroke="none"/>
<polyline points="85.8,315.3 109,315.3 128.3,338.5" fill="none" stroke-width="1.2" />
<polygon points="128.30,338.50 117.74,329.72 121.59,326.52" fill="#231815" stroke="none"/>
<polyline points="45.5,561.8 80.5,561.8 116.2,526.1" fill="none" stroke-width="1.2" />
<polygon points="124.7,517.6 114.6,524.5 117.8,527.7" fill="#fff" stroke-width="1.2" />
<text x="339.1" y="22.8" font-size="31.7" text-anchor="middle" letter-spacing="0" fill="#231815" stroke="#fff" stroke-width="0.6">D</text>
<text x="98.6" y="312.8" font-size="31.7" text-anchor="middle" letter-spacing="0" fill="#231815" stroke="#fff" stroke-width="0.6">S</text>
<text x="5.5" y="552.8" font-size="31.7" text-anchor="start" letter-spacing="1.6" fill="#231815" stroke="#fff" stroke-width="0.6">SIZE</text>
<text x="264.3" y="581" font-size="31.7" text-anchor="middle" letter-spacing="0" fill="#231815" stroke="#fff" stroke-width="0.6">L</text>
<text x="525.8" y="349.6" font-size="31.7" text-anchor="middle" letter-spacing="0" fill="#231815" stroke="#fff" stroke-width="0.6" transform="rotate(-90 525.8 349.6)">H</text>
<text x="469.8" y="456" font-size="31.7" fill="#231815" stroke="#fff" stroke-width="0.6" transform="rotate(-90 469.8 456)"><tspan font-size="29" dy="-3.1">ϕ</tspan><tspan dy="3.1" dx="2.6">B</tspan></text>
</svg>
</body></html>
